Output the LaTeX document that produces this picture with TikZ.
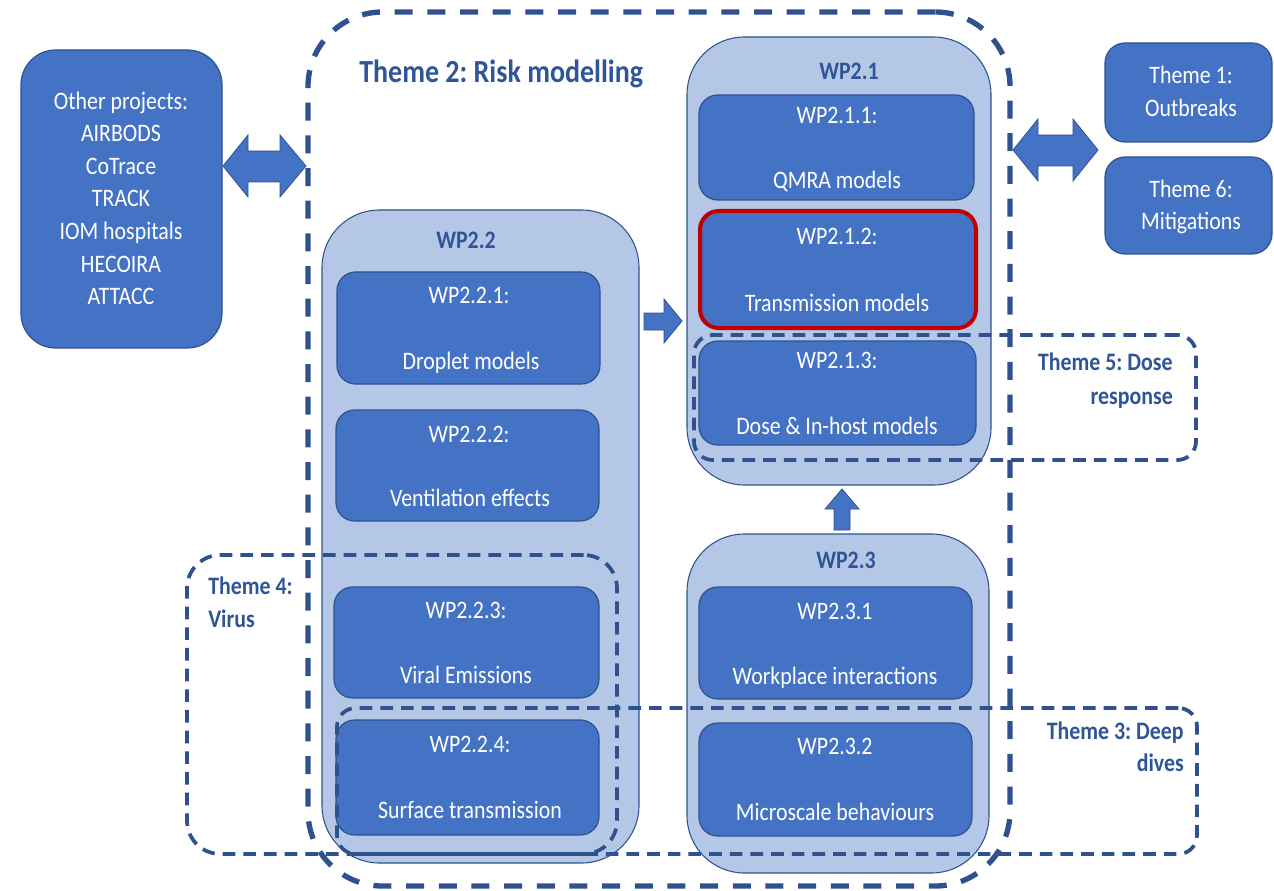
\documentclass[tikz,border=0pt]{standalone}
\usepackage{fontspec}
\setmainfont{Carlito}
\usetikzlibrary{fit}
\definecolor{mblue}{HTML}{4472C4}
\definecolor{dblue}{HTML}{2F528F}
\definecolor{lblue}{HTML}{B4C7E7}
\definecolor{tblue}{HTML}{2F5597}
\definecolor{mred}{HTML}{C00000}
\newcommand{\vstretch}[1]{\scalebox{1}[1.15]{#1}}
\frenchspacing
\begin{document}
\begin{tikzpicture}[x=0.75pt,y=-0.75pt,
  wpbox/.style={draw=dblue, fill=mblue, line width=0.9pt, rounded corners=14pt, inner sep=0pt},
  redbox/.style={draw=mred, fill=mblue, line width=3pt, rounded corners=14pt, inner sep=0pt},
  container/.style={draw=dblue, fill=lblue, line width=0.8pt, rounded corners=43pt, inner sep=0pt},
  bigdash/.style={draw=dblue, line width=4pt, dash pattern=on 13.5pt off 11pt, rounded corners=56pt, inner sep=0pt},
  themedash/.style={draw=dblue, line width=2.8pt, dash pattern=on 9.5pt off 6pt, inner sep=0pt},
  wt/.style={text=white, font=\fontsize{16.4}{20}\selectfont, inner sep=0pt, anchor=base},
  wplabel/.style={text=tblue, font=\bfseries\fontsize{16.4}{20}\selectfont, inner sep=0pt, anchor=base},
  themetext/.style={text=tblue, font=\bfseries\fontsize{16.4}{20}\selectfont, inner sep=0pt},
  blockarrow/.style={fill=mblue, draw=dblue, line width=0.6pt}
]
\useasboundingbox (0,0) rectangle (1274,891);

% Theme 2 big dashed box
\node[bigdash, fit={(308,12) (1010,886)}] (theme2) {};
\node[text=tblue, font=\bfseries\fontsize{21}{25}\selectfont, inner sep=0pt, anchor=base west] (t2) at (359,83) {\vstretch{Theme 2: Risk modelling}};

% Other projects
\node[wpbox, rounded corners=26pt, fit={(21,50) (222,348)}] (other) {};
\node[wt] (o1) at (121,110) {\vstretch{Other projects:}};
\node[wt] (o2) at (121,142) {\vstretch{AIRBODS}};
\node[wt] (o3) at (121,175) {\vstretch{CoTrace}};
\node[wt] (o4) at (121,207) {\vstretch{TRACK}};
\node[wt] (o5) at (121,240) {\vstretch{IOM hospitals}};
\node[wt] (o6) at (121,273) {\vstretch{HECOIRA}};
\node[wt] (o7) at (121,305) {\vstretch{ATTACC}};

% Theme 1 and Theme 6
\node[wpbox, rounded corners=15pt, fit={(1105,43) (1272,142)}] (th1) {};
\node[wt] (th1a) at (1191,84) {\vstretch{Theme 1:}};
\node[wt] (th1b) at (1191,117) {\vstretch{Outbreaks}};
\node[wpbox, rounded corners=15pt, fit={(1105,157) (1272,254)}] (th6) {};
\node[wt] (th6a) at (1191,198) {\vstretch{Theme 6:}};
\node[wt] (th6b) at (1191,230) {\vstretch{Mitigations}};

% Containers
\node[container, fit={(687,37) (991,485)}] (wp21) {};
\node[wplabel] (wp21l) at (849,80) {\vstretch{WP2.1}};
\node[container, fit={(322,210) (639,863)}] (wp22) {};
\node[wplabel] (wp22l) at (466,249) {\vstretch{WP2.2}};
\node[container, fit={(687,534) (989,873)}] (wp23) {};
\node[wplabel] (wp23l) at (846,568) {\vstretch{WP2.3}};

% WP2.1 children
\node[wpbox, fit={(699,95) (974,200)}] (wp211) {};
\node[wt] (wp211a) at (837,124) {\vstretch{WP2.1.1:}};
\node[wt] (wp211b) at (837,189) {\vstretch{QMRA models}};
\node[redbox, fit={(700,211) (976,328)}] (wp212) {};
\node[wt] (wp212a) at (837,245) {\vstretch{WP2.1.2:}};
\node[wt] (wp212b) at (837,311) {\vstretch{Transmission models}};
\node[wpbox, fit={(699,341) (976,445)}] (wp213) {};
\node[wt] (wp213a) at (837,368) {\vstretch{WP2.1.3:}};
\node[wt] (wp213b) at (837,434) {\vstretch{Dose \& In-host models}};

% WP2.2 children
\node[wpbox, fit={(337,272) (600,384)}] (wp221) {};
\node[wt] (wp221a) at (469,304) {\vstretch{WP2.2.1:}};
\node[wt] (wp221b) at (471,369) {\vstretch{Droplet models}};
\node[wpbox, fit={(336,410) (599,521)}] (wp222) {};
\node[wt] (wp222a) at (469,442) {\vstretch{WP2.2.2:}};
\node[wt] (wp222b) at (470,506) {\vstretch{Ventilation effects}};
\node[wpbox, fit={(334,587) (599,698)}] (wp223) {};
\node[wt] (wp223a) at (466,618) {\vstretch{WP2.2.3:}};
\node[wt] (wp223b) at (466,683) {\vstretch{Viral Emissions}};
\node[wpbox, fit={(336,720) (599,835)}] (wp224) {};
\node[wt] (wp224a) at (470,752) {\vstretch{WP2.2.4:}};
\node[wt] (wp224b) at (470,818) {\vstretch{Surface transmission}};

% WP2.3 children
\node[wpbox, fit={(699,587) (972,699)}] (wp231) {};
\node[wt] (wp231a) at (835,619) {\vstretch{WP2.3.1}};
\node[wt] (wp231b) at (835,684) {\vstretch{Workplace interactions}};
\node[wpbox, fit={(699,723) (972,836)}] (wp232) {};
\node[wt] (wp232a) at (835,754) {\vstretch{WP2.3.2}};
\node[wt] (wp232b) at (835,820) {\vstretch{Microscale behaviours}};

% Theme dashed boxes
\node[themedash, rounded corners=14pt, fit={(694,335) (1196,460)}] (theme5) {};
\node[themetext, anchor=base east] (t5a) at (1173,370) {\vstretch{Theme 5: Dose}};
\node[themetext, anchor=base east] (t5b) at (1173,404) {\vstretch{response}};
\node[themedash, rounded corners=25pt, fit={(187,555) (617,854)}] (theme4) {};
\node[themetext, anchor=base west] (t4a) at (208,594) {\vstretch{Theme 4:}};
\node[themetext, anchor=base west] (t4b) at (208,627) {\vstretch{Virus}};
\node[themedash, rounded corners=14pt, fit={(337,708) (1197,854)}] (theme3) {};
\node[themetext, anchor=base east] (t3a) at (1184,739) {\vstretch{Theme 3: Deep}};
\node[themetext, anchor=base east] (t3b) at (1184,771) {\vstretch{dives}};

% Block arrows
\draw[blockarrow] (223,166) -- (248,135) -- (248,151) -- (280,151) -- (280,135) -- (306,166)
  -- (280,197) -- (280,182) -- (248,182) -- (248,197) -- cycle;
\draw[blockarrow] (1013,150) -- (1038,119) -- (1038,135) -- (1073,135) -- (1073,119) -- (1098,150)
  -- (1073,181) -- (1073,166) -- (1038,166) -- (1038,181) -- cycle;
\draw[blockarrow] (644,313) -- (664,313) -- (664,299) -- (682,321) -- (664,343) -- (664,330) -- (644,330) -- cycle;
\draw[blockarrow] (842,489) -- (859,509) -- (850,509) -- (850,530) -- (834,530) -- (834,509) -- (825,509) -- cycle;
\end{tikzpicture}
\end{document}
